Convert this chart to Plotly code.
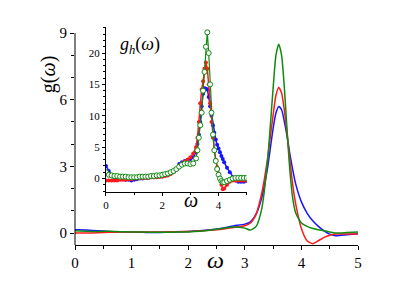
import plotly.graph_objects as go

# ---- main panel data ----
main_x = [0, 0.2, 0.4, 0.6, 0.8, 1.0, 1.2, 1.4, 1.6, 1.8, 2.0, 2.2, 2.4, 2.6, 2.8, 3.0, 3.1, 3.2, 3.3, 3.4,
          3.45, 3.5, 3.55, 3.6, 3.65, 3.7, 3.75, 3.8, 3.85, 3.9, 4.0, 4.1, 4.2, 4.3, 4.4, 4.5, 4.6, 4.8, 5.0]
main_blue = [0.15, 0.13, 0.1, 0.07, 0.05, 0.04, 0.03, 0.02, 0.03, 0.05, 0.07, 0.1, 0.15, 0.22, 0.32, 0.4, 0.5, 0.85, 1.6, 2.9,
             3.8, 4.7, 5.4, 5.7, 5.55, 5.0, 4.3, 3.5, 2.8, 2.2, 1.4, 0.9, 0.55, 0.3, 0.1, -0.05, -0.12, -0.08, -0.03]
main_red = [0.0, 0.0, 0.01, 0.03, 0.04, 0.05, 0.05, 0.05, 0.05, 0.06, 0.07, 0.09, 0.12, 0.17, 0.25, 0.33, 0.45, 0.85, 1.8, 3.3,
            4.3, 5.3, 6.2, 6.55, 6.3, 5.5, 4.4, 3.2, 2.1, 1.3, 0.2, -0.35, -0.48, -0.35, -0.2, -0.1, -0.05, -0.05, -0.05]
main_green = [0.1, 0.08, 0.07, 0.08, 0.06, 0.05, 0.04, 0.03, 0.03, 0.04, 0.05, 0.08, 0.14, 0.2, 0.27, 0.22, 0.13, 0.3, 1.1, 3.2,
              4.8, 6.5, 8.0, 8.5, 8.0, 6.5, 4.5, 2.7, 1.5, 0.9, 0.45, 0.3, 0.2, 0.15, 0.1, 0.05, 0.0, 0.02, 0.05]

# ---- inset data ----
ins_x = [0, 0.1, 0.2, 0.3, 0.4, 0.5, 0.6, 0.7, 0.8, 0.9, 1.0, 1.1, 1.2, 1.3, 1.4, 1.5, 1.6, 1.7, 1.8, 1.9, 2.0,
         2.1, 2.2, 2.3, 2.4, 2.5, 2.6, 2.7, 2.8, 2.9, 3.0, 3.1, 3.2,
         3.25, 3.3, 3.35, 3.4, 3.45, 3.5, 3.55, 3.6, 3.65, 3.7, 3.75, 3.8, 3.85, 3.9, 3.95, 4.0, 4.05, 4.1, 4.15, 4.2,
         4.3, 4.4, 4.5, 4.6, 4.7, 4.8, 4.9, 5.0]
ins_blue = [2.0, 1.2, 0.5, 0.1, 0.0, -0.1, -0.1, -0.2, -0.2, -0.3, -0.2, -0.1, 0.0, 0.0, 0.1, 0.1, 0.2, 0.2, 0.3, 0.3, 0.4,
            0.5, 0.6, 0.8, 1.0, 1.5, 2.3, 2.6, 2.8, 3.0, 3.1, 3.4, 4.2,
            5.5, 7.0, 9.0, 11.5, 13.5, 14.4, 14.3, 14.2, 13.0, 11.5, 10.0, 8.5, 7.3, 6.2, 5.4, 4.8, 4.2, 3.6, 3.1, 2.6,
            1.7, 1.0, 0.2, -0.3, -0.5, -0.5, -0.5, -0.4]
ins_red = [-0.3, -0.3, -0.3, -0.3, -0.3, -0.2, -0.2, -0.2, -0.1, -0.1, 0.0, 0.0, 0.1, 0.1, 0.1, 0.1, 0.2, 0.2, 0.2, 0.3, 0.3,
           0.4, 0.5, 0.7, 1.0, 1.5, 2.0, 2.4, 2.7, 3.0, 3.4, 4.0, 5.0,
           6.5, 9.0, 12.0, 14.2, 15.5, 17.5, 18.5, 17.5, 15.0, 12.0, 9.0, 6.5, 4.5, 3.0, 1.8, 0.8, 0.0, -1.0, -1.7, -1.6,
           -1.0, -0.5, -0.3, -0.3, -0.3, -0.3, -0.3, -0.3]
ins_green = [1.0, 0.6, 0.5, 0.4, 0.4, 0.3, 0.3, 0.3, 0.2, 0.2, 0.2, 0.2, 0.3, 0.3, 0.3, 0.3, 0.4, 0.4, 0.5, 0.5, 0.6,
             0.7, 0.8, 1.0, 1.2, 1.5, 1.9, 2.2, 2.4, 2.4, 2.3, 2.4, 3.2,
             4.5, 6.5, 8.5, 10.5, 14.0, 17.0, 21.0, 23.3, 20.0, 15.0, 10.5, 7.0, 4.5, 2.8, 1.5, 0.6, 0.0, -0.4, -0.6, -0.6,
             -0.4, -0.2, 0.0, 0.1, 0.1, 0.1, 0.1, 0.1]

main_xticks = [0, 1, 2, 3, 4, 5]
main_yticks = [0, 3, 6, 9]
ins_xticks = [0, 2, 4]
ins_yticks = [0, 5, 10, 15, 20]

BLUE = "#1515ff"
RED = "#ff1a1a"
GREEN = "#108a10"
FONT = "Liberation Serif"

fig = go.Figure()
for y, c in [(main_blue, BLUE), (main_red, RED), (main_green, GREEN)]:
    fig.add_trace(go.Scatter(x=main_x, y=y, mode="lines",
                             line=dict(color=c, width=1.5, shape="spline", smoothing=0.6),
                             xaxis="x", yaxis="y", showlegend=False, hoverinfo="skip"))

fig.add_trace(go.Scatter(x=ins_x, y=ins_blue, mode="lines+markers",
                         line=dict(color=BLUE, width=1.5), marker=dict(color=BLUE, size=4),
                         xaxis="x2", yaxis="y2", showlegend=False))
fig.add_trace(go.Scatter(x=ins_x, y=ins_red, mode="lines+markers",
                         line=dict(color=RED, width=1.5), marker=dict(color=RED, size=4),
                         xaxis="x2", yaxis="y2", showlegend=False))
fig.add_trace(go.Scatter(x=ins_x, y=ins_green, mode="lines+markers",
                         line=dict(color=GREEN, width=1.2),
                         marker=dict(color="white", size=5, line=dict(color=GREEN, width=1)),
                         xaxis="x2", yaxis="y2", showlegend=False))

axis_common = dict(showgrid=False, zeroline=False, linecolor="black", linewidth=1, automargin=False,
                   ticks="outside", tickcolor="black", tickwidth=1)

fig.update_layout(
    width=415, height=294,
    margin=dict(l=67, r=65, t=18, b=57, autoexpand=False),
    paper_bgcolor="white", plot_bgcolor="white",
    font=dict(family=FONT, color="black"),
    xaxis=dict(domain=[0, 1], range=[0, 5], showline=True, tickvals=main_xticks, ticklen=4,
               minor=dict(dtick=0.5, ticks="outside", ticklen=3, tickcolor="black"),
               tickfont=dict(size=15, family=FONT), **axis_common),
    yaxis=dict(domain=[0, 1], range=[-0.54, 9.32], showline=False, tickvals=main_yticks, ticklen=4,
               minor=dict(tickvals=[1, 2, 4, 5, 7, 8], ticks="outside", ticklen=3, tickcolor="black"),
               tickfont=dict(size=15, family=FONT), **axis_common),
    xaxis2=dict(domain=[0.1095, 0.6067], anchor="y2", range=[0, 5], showline=True,
                tickvals=ins_xticks, ticklen=3,
                minor=dict(dtick=1, ticks="outside", ticklen=2, tickcolor="black"),
                tickfont=dict(size=11, family=FONT), **axis_common),
    yaxis2=dict(domain=[0.2434, 0.994], anchor="x2", range=[-2.1, 24.1], showline=True,
                tickvals=ins_yticks, ticklen=3,
                minor=dict(dtick=1, ticks="outside", ticklen=2, tickcolor="black"),
                tickfont=dict(size=11, family=FONT), **axis_common),
    shapes=[dict(type="line", xref="paper", yref="y", x0=0, x1=0, y0=-0.54, y1=9,
                 line=dict(color="black", width=1))],
    annotations=[
        dict(text="g(<i>ω</i>)", xref="paper", yref="paper", x=-0.095, y=0.776, textangle=-90,
             xanchor="center", yanchor="middle",
             showarrow=False, font=dict(size=20, family=FONT)),
        dict(text="<i>ω</i>", xref="paper", yref="paper", x=0.495, y=-0.07,
             xanchor="center", yanchor="middle",
             showarrow=False, font=dict(size=24, family=FONT)),
        dict(text="<i>ω</i>", xref="paper", yref="paper", x=0.41, y=0.205,
             xanchor="center", yanchor="middle",
             showarrow=False, font=dict(size=20, family=FONT)),
        dict(text="<i>g</i><sub><i>h</i></sub>(<i>ω</i>)", xref="paper", yref="paper", x=0.2297, y=0.913,
             xanchor="center", yanchor="middle",
             showarrow=False, font=dict(size=18, family=FONT)),
    ],
)

fig.write_html("out.html")
